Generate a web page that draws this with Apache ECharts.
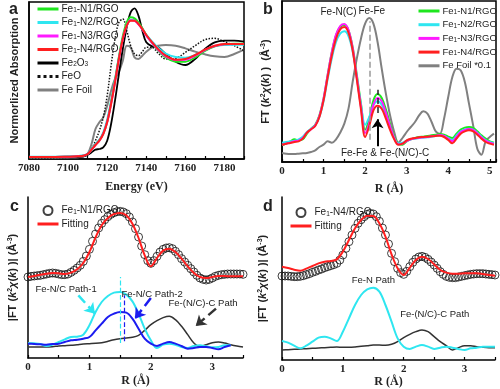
<!DOCTYPE html>
<html><head><meta charset="utf-8">
<script src="https://cdn.jsdelivr.net/npm/echarts@6/dist/echarts.min.js"></script>
<style>html,body{margin:0;padding:0;background:#fff}#c{width:500px;height:389px}</style>
</head><body><div id="c"></div>
<script>
// ---------- Panel a: XANES (energy in eV, heights in reading units) ----------
const aEnergy = [7080,7090,7100,7105,7108,7110,7112,7114,7116,7118,7120,7122,7124,7126,7128,7130,7132,7134,7136,7138,7140,7143,7146,7150,7155,7160,7165,7170,7175,7180,7185,7190];
const aN1   = [6,6,7,8,10,15,28,43,56,76,112,170,236,306,368,410,425,422,410,392,372,348,326,305,292,292,305,324,338,344,346,346];
const aN2   = [7,7,8,9,11,16,30,45,58,80,118,174,238,305,362,402,418,416,406,390,373,352,334,316,306,304,312,326,338,342,343,343];
const aN3   = [6,6,7,8,10,15,28,42,55,76,111,166,231,300,360,400,416,415,404,389,370,348,328,308,297,298,310,327,339,344,345,345];
const aN4   = [6,6,7,8,10,15,28,42,55,75,110,165,230,300,360,400,415,415,405,390,372,350,330,310,298,300,312,328,340,345,345,345];
const aFe2O3= [5,5,5,6,8,12,20,28,30,35,55,105,175,255,330,395,440,452,430,385,350,338,335,315,292,282,300,330,350,355,355,352];
const aFeO  = [4,4,5,6,8,15,30,55,85,125,190,280,360,410,420,385,340,315,310,322,335,335,318,300,302,320,340,358,362,352,340,325];
const aFoil = [3,3,4,5,8,15,45,90,110,125,160,205,240,262,295,340,335,305,300,310,322,335,340,342,340,332,322,314,308,306,315,328];

// ---------- Panel b: FT-EXAFS ----------
const bR = [0,0.1,0.2,0.3,0.4,0.5,0.6,0.7,0.8,0.9,1.0,1.1,1.2,1.3,1.4,1.5,1.6,1.7,1.8,1.9,2.0,2.1,2.2,2.3,2.4,2.5,2.6,2.7,2.8,2.9,3.0,3.1,3.2,3.3,3.4,3.5,3.6,3.7,3.8,3.9,4.0,4.1,4.2,4.3,4.4,4.5,4.6,4.7,4.8,4.9,5.0,5.1];
const bN1 = [50,55,62,68,65,68,85,100,112,140,190,262,330,380,405,411,395,345,262,175,97,130,185,204,192,158,115,75,55,52,62,68,72,75,76,78,80,82,84,82,76,72,85,97,103,105,102,92,80,70,62,58];
const bN2 = [58,60,62,64,68,76,90,100,110,135,182,250,312,360,385,392,378,332,255,172,112,135,170,182,172,142,105,72,56,58,64,68,70,72,73,74,76,78,80,78,72,66,80,92,98,100,97,88,76,66,60,56];
const bN3 = [52,55,58,62,64,72,88,98,110,138,190,262,330,382,408,414,396,342,255,165,87,118,172,192,182,148,108,72,53,55,63,68,71,73,74,75,77,79,81,78,70,62,76,90,96,99,96,86,74,64,58,54];
const bN4 = [52,55,57,60,62,70,88,98,108,135,185,255,320,370,398,405,388,335,248,158,75,108,155,169,160,130,96,68,52,55,65,70,72,74,75,76,77,78,79,75,66,56,70,85,92,95,92,82,70,60,55,52];
const bFoil=[27,25,24,24,25,26,27,30,35,45,52,62,58,68,88,115,160,240,310,370,415,432,415,360,280,205,140,90,58,72,90,105,120,140,152,145,120,92,85,130,195,255,280,275,240,175,110,40,22,62,75,85];

// ---------- Panel c: Fe1-N1/RGO fit ----------
const cRdata = [0,0.05,0.1,0.15,0.2,0.25,0.3,0.35,0.4,0.45,0.5,0.55,0.6,0.65,0.7,0.75,0.8,0.85,0.9,0.95,1.0,1.05,1.1,1.15,1.2,1.25,1.3,1.35,1.4,1.45,1.5,1.55,1.6,1.65,1.7,1.75,1.8,1.85,1.9,1.95,2.0,2.05,2.1,2.15,2.2,2.25,2.3,2.35,2.4,2.45,2.5,2.55,2.6,2.65,2.7,2.75,2.8,2.85,2.9,2.95,3.0,3.05,3.1,3.15,3.2,3.25,3.3,3.35,3.4,3.45,3.5];
const cExp = [243,245,246,247,248,250,252,254,255,254,252,250,250,252,257,263,270,278,290,306,326,350,372,390,404,415,424,431,436,439,440,438,433,423,408,388,363,336,310,292,284,292,305,318,326,330,331,328,320,310,298,288,278,268,258,248,240,236,234,236,240,245,248,250,251,252,252,252,252,252,251];
const cR = [0,0.1,0.2,0.3,0.4,0.5,0.6,0.7,0.8,0.9,1.0,1.1,1.2,1.3,1.4,1.5,1.6,1.7,1.8,1.9,2.0,2.1,2.2,2.3,2.4,2.5,2.6,2.7,2.8,2.9,3.0,3.1,3.2,3.3,3.4,3.5];
const cFit  = [243,246,250,253,255,254,252,256,266,285,318,362,398,420,432,435,428,403,360,308,275,300,322,328,318,298,275,255,243,240,243,246,246,245,245,245];
const cPath1= [45,44,42,36,40,48,56,63,64,70,98,138,168,186,196,198,190,170,133,88,53,30,40,43,40,33,30,36,38,35,32,33,38,38];
const cPath2= [43,42,41,40,42,43,48,53,55,58,63,83,103,123,133,138,136,118,88,58,43,36,43,48,43,36,28,30,33,33,30,26,33,38];
const cPathC= [33,33,33,33,34,36,37,38,40,42,43,44,46,50,55,58,60,62,68,83,100,112,121,125,115,95,70,45,34,40,46,48,45,40,36,33];

// ---------- Panel d: Fe1-N4/RGO fit ----------
const dExp = [252,252,252,251,250,250,251,253,256,259,263,266,270,273,277,280,283,286,290,300,315,335,355,375,395,410,421,430,437,440,438,430,416,396,375,348,320,295,275,262,257,266,280,293,303,309,311,308,302,294,285,275,265,257,251,248,247,247,249,251,253,255,257,258,259,259,259,258,257,256,255];
const dFit  = [280,276,271,268,274,282,290,295,297,302,325,360,395,420,433,432,410,370,317,275,255,277,300,310,303,287,270,262,259,259,260,260,260,258,255,253];
const dPathN= [57,52,43,35,43,55,67,70,65,57,85,125,165,195,212,217,205,165,115,65,40,33,40,45,40,33,37,40,37,33,30,35,37,40,40,40];
const dPathC= [30,31,32,33,34,35,36,37,38,39,38,38,39,41,43,45,45,44,47,55,67,77,85,90,85,70,55,43,30,37,43,43,40,38,37,37];

// ---------- labels ----------
const legendText = {
  aN1:'Fe{s|1}-N1/RGO', aN2:'Fe{s|1}-N2/RGO', aN3:'Fe{s|1}-N3/RGO', aN4:'Fe{s|1}-N4/RGO',
  aFe2O3:'Fe{s|2}O{s|3}', aFeO:'FeO', aFoil:'Fe Foil',
  bN1:'Fe{s|1}-N1/RGO', bN2:'Fe{s|1}-N2/RGO', bN3:'Fe{s|1}-N3/RGO', bN4:'Fe{s|1}-N4/RGO', bFoil:'Fe Foil *0.1',
  cExp:'Fe{s|1}-N1/RGO', cFit:'Fitting', dExp:'Fe{s|1}-N4/RGO', dFit:'Fitting'
};

const GREEN='#1ee61e', CYAN='#2ee6f0', MAG='#ff1aff', RED='#ff1f1f', GRAY='#808080', BLUE='#1c1cf0', DARK='#333333';
const pair = (xs, ys) => ys.map((v,i)=>[xs[i], v]);
const serif = 'Liberation Serif', sans = 'Liberation Sans';

function xAx(g, min, max, interval, name, gap){
  return {type:'value', gridIndex:g, min, max, interval, name, nameLocation:'middle', nameGap:gap,
    nameTextStyle:{fontFamily:serif, fontWeight:'bold', fontSize:12, color:'#222'},
    axisLine:{show:true, onZero:false, lineStyle:{color:'#000', width:1.5}},
    axisTick:{show:true, inside:true, length:3, lineStyle:{color:'#000', width:1.2}},
    minorTick:{show:true, splitNumber:2, length:3, lineStyle:{color:'#000', width:1.2}},
    splitLine:{show:false}, minorSplitLine:{show:false},
    axisLabel:{fontFamily:serif, fontWeight:'bold', fontSize:11, color:'#222', margin:4, showMaxLabel:false,
      formatter: v => String(v)}};
}
const richY = {
  b:{fontFamily:sans, fontWeight:'bold', fontSize:11, color:'#222'},
  i:{fontFamily:sans, fontWeight:'bold', fontStyle:'italic', fontSize:11, color:'#222'},
  sup:{fontFamily:sans, fontWeight:'bold', fontSize:7, color:'#222', verticalAlign:'top'}
};
function yAx(g, max, name, gap){
  return {type:'value', gridIndex:g, min:0, max, name, nameLocation:'middle', nameGap:gap, nameRotate:90,
    nameTextStyle:{fontFamily:sans, fontWeight:'bold', fontSize:11, color:'#222', rich:richY},
    axisLine:{show:true, lineStyle:{color:'#000', width:1.5}}, axisTick:{show:false}, axisLabel:{show:false}, splitLine:{show:false}};
}
function line(name, g, xs, ys, color, width, extra){
  return Object.assign({name, type:'line', xAxisIndex:g, yAxisIndex:g, data:pair(xs,ys), symbol:'none', smooth:0.35,
    lineStyle:{color, width}, itemStyle:{color}, silent:true}, extra||{});
}
// line items: hide the legend's centre symbol, keep only the stroke
const li = n => ({name:n, itemStyle:{opacity:0}});
const legendBase = (left, top, data, gap, fs) => ({
  left, top, orient:'vertical', data, itemWidth:21, itemHeight:9, itemGap:gap,
  formatter: n => legendText[n], selectedMode:false,
  lineStyle:{width:3},
  textStyle:{fontFamily:sans, fontSize:fs, color:'#222', padding:[0,0,0,-2],
    rich:{s:{fontFamily:sans, fontSize:6.5, color:'#222', verticalAlign:'bottom'}}}
});
const annLabel = {show:true, position:'inside', fontFamily:sans, fontSize:10, color:'#222'};
const txt = (x, y, t, fs) => ({coord:[x,y], symbol:'circle', symbolSize:0, itemStyle:{color:'transparent'},
  label:Object.assign({}, annLabel, {formatter:t, fontSize:fs||10})});
const seg = (x1,y1,x2,y2, style) => [{coord:[x1,y1], lineStyle:style},{coord:[x2,y2]}];

const option = {
  animation:false,
  backgroundColor:'#fff',
  title:[
    {text:'a', left:4, top:-3, textStyle:{fontFamily:sans, fontWeight:'bold', fontSize:16, color:'#222'}},
    {text:'b', left:258, top:-3, textStyle:{fontFamily:sans, fontWeight:'bold', fontSize:16, color:'#222'}},
    {text:'c', left:5, top:194, textStyle:{fontFamily:sans, fontWeight:'bold', fontSize:16, color:'#222'}},
    {text:'d', left:258, top:194, textStyle:{fontFamily:sans, fontWeight:'bold', fontSize:16, color:'#222'}}
  ],
  grid:[
    {left:29, top:2, width:215, height:157, show:true, borderColor:'#000', borderWidth:1.5},
    {left:282, top:1, width:214, height:161, show:true, borderColor:'#000', borderWidth:1.5},
    {left:28, top:197, width:215, height:161},
    {left:282, top:197, width:213, height:163}
  ],
  xAxis:[
    xAx(0, 7080, 7190, 20, 'Energy (eV)', 22),
    xAx(1, 0, 5.15, 1, 'R (Å)', 21),
    xAx(2, 0, 3.5, 1, 'R (Å)', 17),
    xAx(3, 0, 3.5, 1, 'R (Å)', 15)
  ],
  yAxis:[
    yAx(0, 471, 'Normorlized Absorption', 9),
    yAx(1, 483, '{b|FT (}{i|k}{sup|2}{i|χ}{b|(}{i|k}{b|) )  (Å}{sup|-3}{b|)}', 11),
    yAx(2, 483, '{b||FT (}{i|k}{sup|2}{i|χ}{b|(}{i|k}{b|) )| (Å}{sup|-3}{b|)}', 10),
    yAx(3, 489, '{b||FT (}{i|k}{sup|2}{i|χ}{b|(}{i|k}{b|) )| (Å}{sup|-3}{b|)}', 14)
  ],
  legend:[
    legendBase(31, -1, ['aN1','aN2','aN3','aN4','aFe2O3','aFeO','aFoil'].map(li), 3.5, 10),
    legendBase(412, 1, ['bN1','bN2','bN3','bN4','bFoil'].map(li), 3.7, 9.5),
    legendBase(31, 200, ['cExp', li('cFit')], 3, 10),
    legendBase(284, 202, ['dExp', li('dFit')], 3, 10)
  ],
  series:[
    // panel a
    line('aFoil', 0, aEnergy, aFoil, GRAY, 2),
    line('aFeO', 0, aEnergy, aFeO, '#111', 1.5, {lineStyle:{color:'#111', width:1.5, type:'dotted'}}),
    line('aFe2O3', 0, aEnergy, aFe2O3, '#000', 1.8),
    line('aN2', 0, aEnergy, aN2, CYAN, 2),
    line('aN1', 0, aEnergy, aN1, GREEN, 2),
    line('aN3', 0, aEnergy, aN3, MAG, 2),
    line('aN4', 0, aEnergy, aN4, RED, 2),
    // panel b
    line('bFoil', 1, bR, bFoil, GRAY, 2, {
      markLine:{silent:true, symbol:['none','none'], label:{show:false},
        data:[ seg(2.1,67,2.1,422,{color:'#999', type:'dashed', width:1.5}),
               seg(2.3,147,2.3,217,{color:'#222', type:'dashed', width:1.5}) ]},
      markPoint:{silent:true, data:[ txt(1.36,449,'Fe-N(C)'), txt(2.16,452,'Fe-Fe'), txt(2.48,25,'Fe-Fe & Fe-(N/C)-C') ]}
    }),
    line('bN1', 1, bR, bN1, GREEN, 2),
    line('bN2', 1, bR, bN2, CYAN, 2),
    line('bN3', 1, bR, bN3, MAG, 2),
    line('bN4', 1, bR, bN4, RED, 2, {
      markLine:{silent:true, symbol:['none','arrow'], symbolSize:9, label:{show:false},
        data:[ seg(2.3,47,2.3,128,{color:'#000', type:'solid', width:2}) ]}
    }),
    // panel c
    {name:'cExp', type:'scatter', xAxisIndex:2, yAxisIndex:2, data:pair(cRdata,cExp), symbol:'circle', symbolSize:8,
      itemStyle:{color:'rgba(0,0,0,0)', borderColor:'#111', borderWidth:1}, silent:true},
    line('cPathC', 2, cR, cPathC, DARK, 1.5, {
      markLine:{silent:true, symbol:['none','arrow'], symbolSize:10, label:{show:false},
        data:[ seg(3.06,148,2.73,96,{color:DARK, width:2.5}),
               seg(0.82,188,1.09,133,{color:CYAN, width:2.5}),
               seg(2.0,180,1.74,118,{color:BLUE, width:2.5}) ]},
      markPoint:{silent:true, data:[ txt(0.62,205,'Fe-N/C Path-1',9.5), txt(2.02,191,'Fe-N/C Path-2',9.5), txt(2.85,163,'Fe-(N/C)-C Path',9.5) ]}
    }),
    line('cPath1', 2, cR.slice(0,cPath1.length), cPath1, CYAN, 2, {
      markLine:{silent:true, symbol:['none','none'], label:{show:false},
        data:[ seg(1.5,45,1.5,243,{color:CYAN, type:'dashed', width:1.2}) ]}
    }),
    line('cPath2', 2, cR.slice(0,cPath2.length), cPath2, BLUE, 2, {
      markLine:{silent:true, symbol:['none','none'], label:{show:false},
        data:[ seg(1.56,50,1.56,188,{color:BLUE, type:'dashed', width:1.2}) ]}
    }),
    line('cFit', 2, cR, cFit, RED, 2),
    // panel d
    {name:'dExp', type:'scatter', xAxisIndex:3, yAxisIndex:3, data:pair(cRdata,dExp), symbol:'circle', symbolSize:8,
      itemStyle:{color:'rgba(0,0,0,0)', borderColor:'#111', borderWidth:1}, silent:true},
    line('dPathC', 3, cR, dPathC, DARK, 1.5, {
      markPoint:{silent:true, data:[ txt(1.5,240,'Fe-N Path',9.5), txt(2.51,138,'Fe-(N/C)-C Path',9.5) ]}
    }),
    line('dPathN', 3, cR, dPathN, CYAN, 2),
    line('dFit', 3, cR, dFit, RED, 2)
  ]
};
const chart = echarts.init(document.getElementById('c'), null, {renderer:'canvas'});
chart.setOption(option);
</script></body></html>
